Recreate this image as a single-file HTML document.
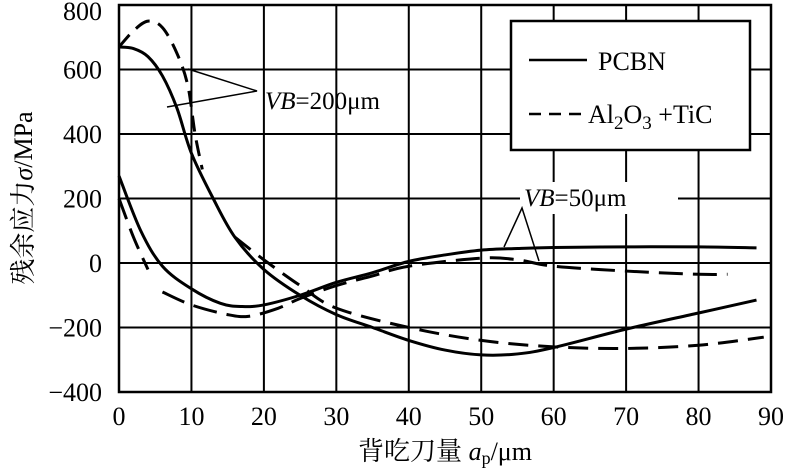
<!DOCTYPE html>
<html><head><meta charset="utf-8"><style>
body{margin:0;background:#fff}
svg{display:block;font-family:"Liberation Serif","Noto Serif CJK SC",serif}
</style></head><body>
<svg width="786" height="469" viewBox="0 0 786 469">
<g id="grid"></g>
<g id="ticks" font-size="26" fill="#000"></g>
<g id="curves" fill="none" stroke="#000" stroke-width="3"></g>
<rect x="119" y="5" width="652" height="387" fill="none" stroke="#000" stroke-width="2.5"/>
<text transform="translate(32,198) rotate(-90)" text-anchor="middle" font-size="26">残余应力<tspan font-style="italic">σ</tspan>/MPa</text>
<text x="445" y="460" text-anchor="middle" font-size="26">背吃刀量 <tspan font-style="italic">a</tspan><tspan font-size="18" dy="4">p</tspan><tspan dy="-4">/μm</tspan></text>
<g>
<rect x="511" y="21" width="239" height="129" fill="#fff" stroke="#000" stroke-width="2.5"/>
<line x1="529" y1="60" x2="587" y2="60" stroke="#000" stroke-width="2.5"/>
<text x="598" y="70" font-size="26">PCBN</text>
<line x1="529" y1="114" x2="588" y2="114" stroke="#000" stroke-width="2.5" stroke-dasharray="12,8"/>
<text x="588" y="123" font-size="26">Al<tspan font-size="19" dy="6">2</tspan><tspan dy="-6">O</tspan><tspan font-size="19" dy="6">3</tspan><tspan dy="-6"> +TiC</tspan></text>
</g>
<g>
<polyline points="188,69 257,91 167,107" fill="none" stroke="#000" stroke-width="1.5"/>
<text x="265" y="109" font-size="25"><tspan font-style="italic">VB</tspan>=200μm</text>
</g>
<g>
<rect x="520" y="182" width="158" height="32" fill="#fff"/>
<polyline points="504,247 522,208 539,261" fill="none" stroke="#000" stroke-width="1.5"/>
<text x="524" y="206" font-size="25"><tspan font-style="italic">VB</tspan>=50μm</text>
</g>
</svg>
<script>
const xTicks=[0,10,20,30,40,50,60,70,80,90];
const yTicks=[-400,-200,0,200,400,600,800];
const pcbn200X=[0,2,4,6,8,10,13,16,20,25,30,35,40,45,50,55,60,70,80,88];
const pcbn200Y=[670,665,640,580,480,340,200,80,-20,-100,-160,-200,-240,-270,-285,-282,-262,-205,-155,-115];
const al200aX=[0,2,4,6,8,9.5,10.5,11.5];
const al200aY=[670,720,750,730,650,550,400,290];
const al200bX=[16,20,25,30,40,50,60,70,80,89];
const al200bY=[80,10,-70,-140,-200,-240,-260,-265,-255,-230];
const pcbn50X=[0,3,6,10,14,17,20,25,30,35,40,45,50,55,60,70,80,88];
const pcbn50Y=[270,100,-10,-80,-125,-135,-130,-100,-60,-30,5,25,40,45,48,50,50,47];
const al50aX=[0,2,4];
const al50aY=[200,80,-20];
const al50bX=[6,10,15,18,22,25,30,35,40,50,55,60,70,80,84];
const al50bY=[-90,-130,-160,-165,-140,-110,-70,-40,-10,15,10,-10,-25,-35,-35];
const sx=v=>119+v*652/90;
const sy=v=>263-v*0.3225;
const NS="http://www.w3.org/2000/svg";
const grid=document.getElementById('grid'),ticks=document.getElementById('ticks'),curves=document.getElementById('curves');
xTicks.forEach(t=>{
 const l=document.createElementNS(NS,'line');
 
 
 l.setAttribute('x1',sx(t));l.setAttribute('x2',sx(t));l.setAttribute('y1',5);l.setAttribute('y2',392);
 l.setAttribute('stroke','#000');l.setAttribute('stroke-width','2');grid.appendChild(l);
 const tx=document.createElementNS(NS,'text');
 
 
 tx.setAttribute('x',sx(t));tx.setAttribute('y',425);tx.setAttribute('text-anchor','middle');tx.textContent=t;ticks.appendChild(tx);
});
yTicks.forEach(t=>{
 const l=document.createElementNS(NS,'line');
 
 
 l.setAttribute('x1',119);l.setAttribute('x2',771);l.setAttribute('y1',sy(t));l.setAttribute('y2',sy(t));
 l.setAttribute('stroke','#000');l.setAttribute('stroke-width','2');grid.appendChild(l);
 const tx=document.createElementNS(NS,'text');
 
 
 tx.setAttribute('x',102);tx.setAttribute('y',Math.max(sy(t)+9,20));tx.setAttribute('text-anchor','end');tx.textContent=(t<0?'−':'')+Math.abs(t);ticks.appendChild(tx);
});
function path(xs,ys){
 const p=xs.map((x,i)=>[sx(x),sy(ys[i])]);
 let d='M'+p[0][0]+','+p[0][1];
 for(let i=0;i<p.length-1;i++){
  const p0=p[i-1]||p[i],p1=p[i],p2=p[i+1],p3=p[i+2]||p2;
  d+=' C'+(p1[0]+(p2[0]-p0[0])/6)+','+(p1[1]+(p2[1]-p0[1])/6)+' '+(p2[0]-(p3[0]-p1[0])/6)+','+(p2[1]-(p3[1]-p1[1])/6)+' '+p2[0]+','+p2[1];
 }
 return d;
}
function add(xs,ys,name,dash){
 const e=document.createElementNS(NS,'path');
 
 
 e.setAttribute('d',path(xs,ys));
 if(dash)e.setAttribute('stroke-dasharray',dash);
 curves.appendChild(e);
}
add(pcbn200X,pcbn200Y,'pcbn-vb200-line');
add(al200aX,al200aY,'al2o3-vb200-line','16,9');
add(al200bX,al200bY,'al2o3-vb200-line-tail','20,10');
add(pcbn50X,pcbn50Y,'pcbn-vb50-line');
add(al50aX,al50aY,'al2o3-vb50-line','22,10');
add(al50bX,al50bY,'al2o3-vb50-line-tail','24,10');
</script>
</body></html>
